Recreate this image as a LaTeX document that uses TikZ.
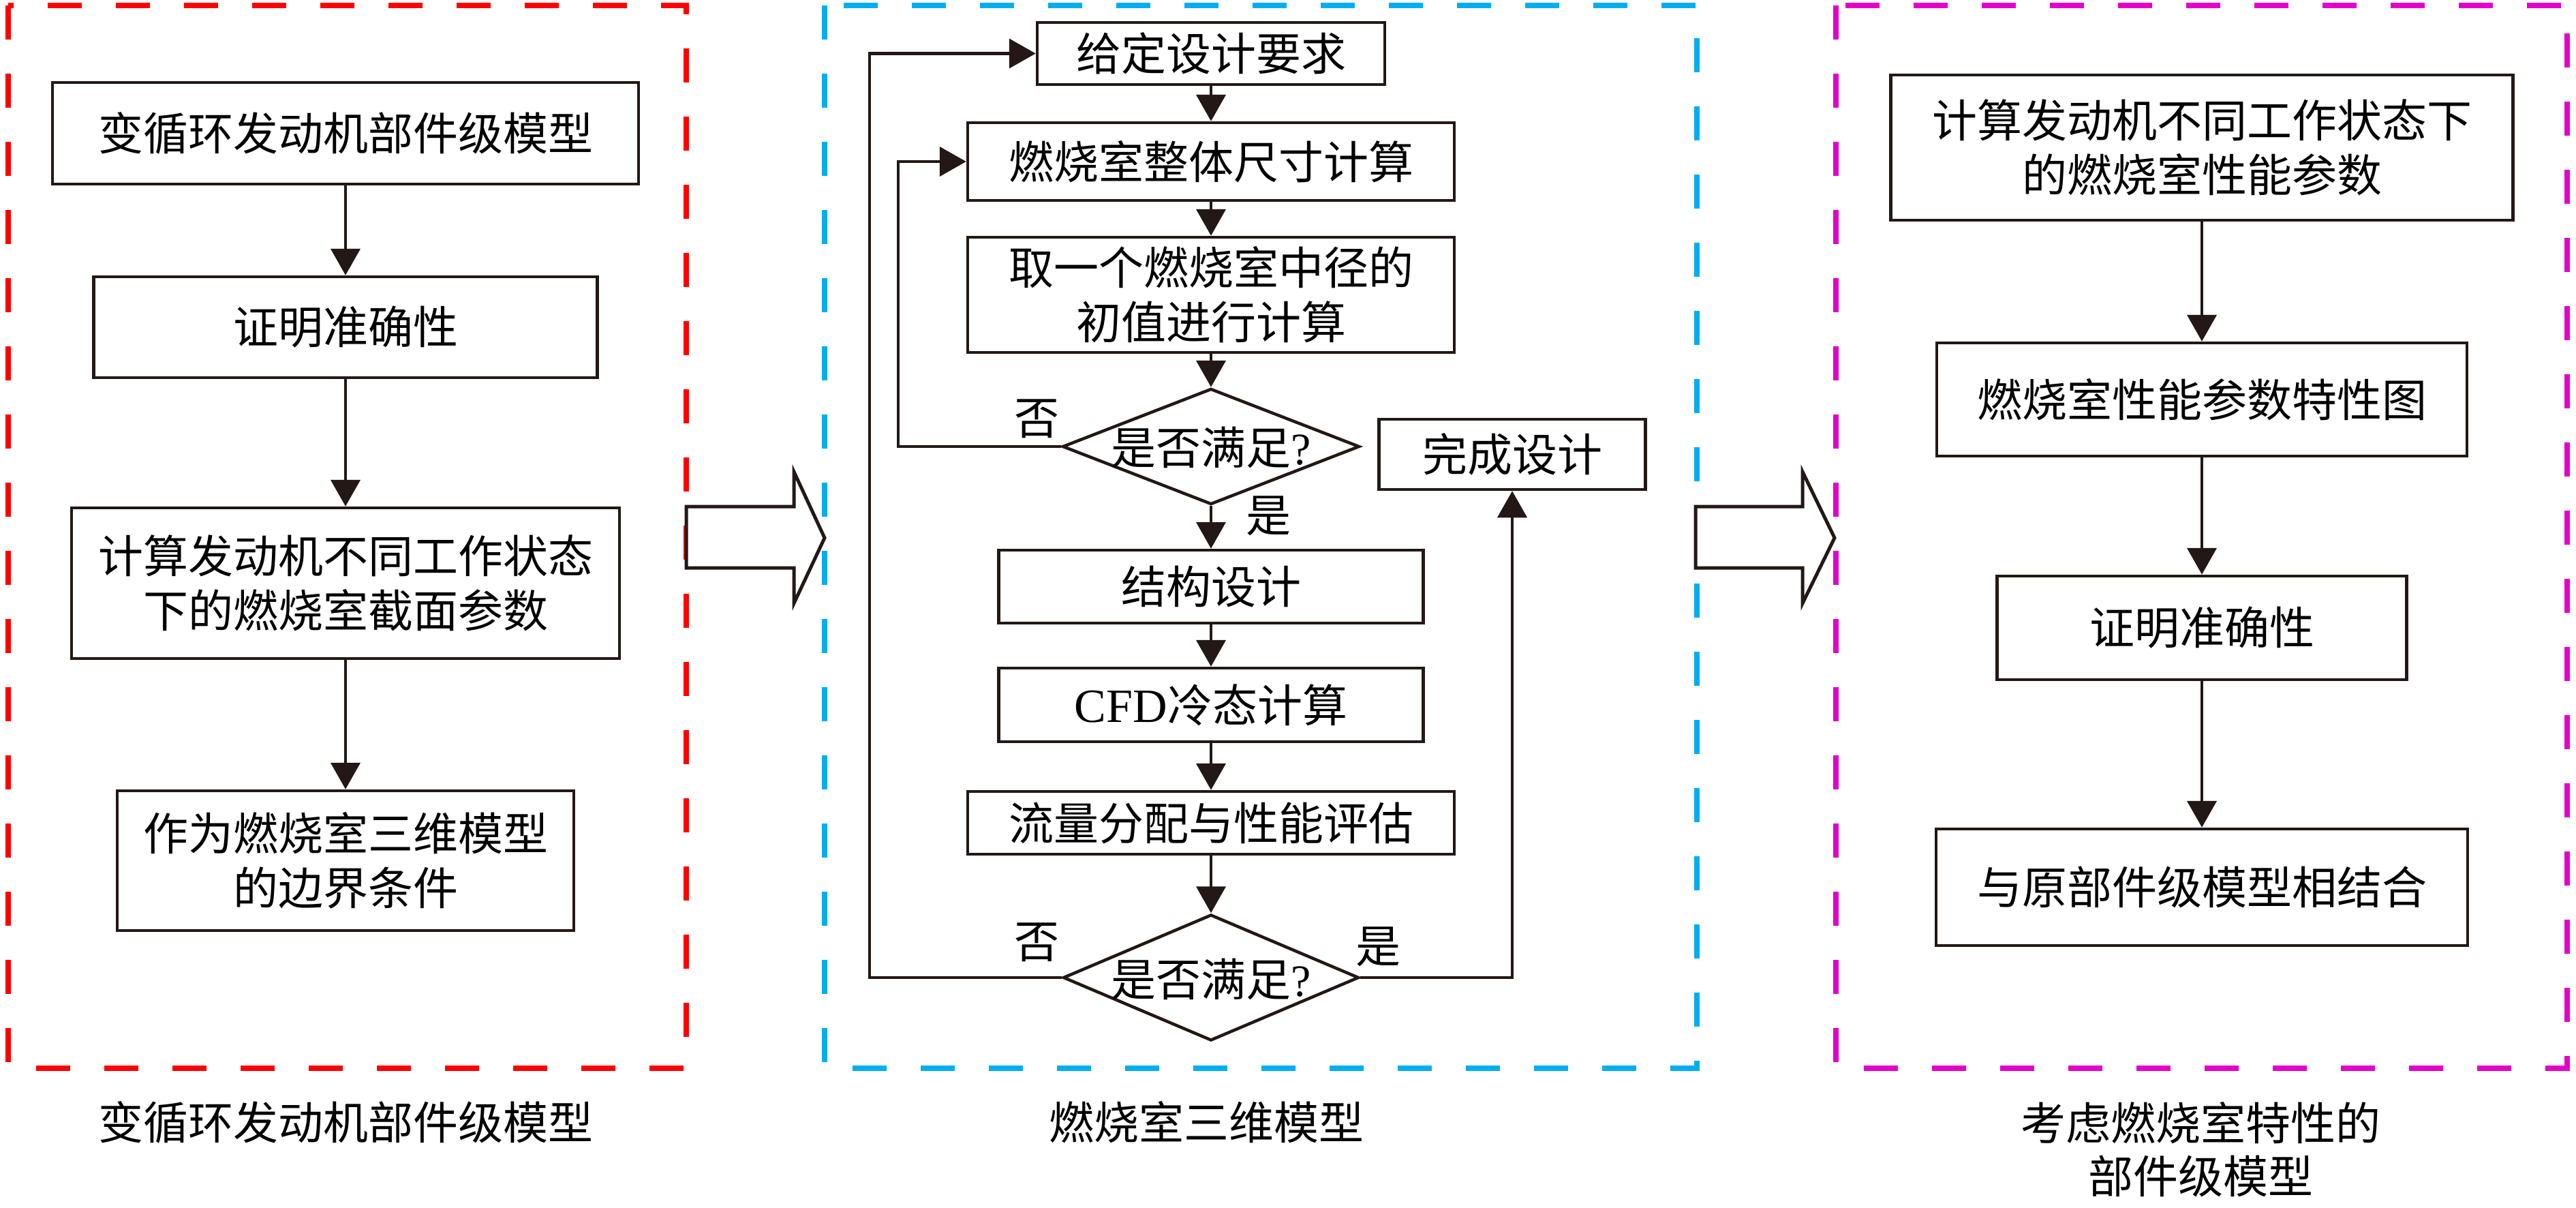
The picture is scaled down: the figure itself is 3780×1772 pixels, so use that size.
\documentclass[tikz,border=0pt]{standalone}
\usepackage{fontspec}
\setmainfont{Liberation Serif}
\newfontfamily\cjk{Noto Sans CJK SC}
\usetikzlibrary{arrows.meta,shapes.geometric}
\definecolor{fred}{RGB}{255,0,0}
\definecolor{fblue}{RGB}{0,174,239}
\definecolor{fmag}{RGB}{228,0,200}
\definecolor{fblack}{RGB}{35,24,21}
\tikzset{
  txt/.style={font=\cjk\fontsize{66}{80}\selectfont, text=black, inner sep=0pt, align=center},
  box/.style={txt, draw=fblack, line width=4.5pt, fill=white},
  dia/.style={draw=fblack, line width=4.5pt, shape=diamond, inner sep=0pt, fill=white},
  arr/.style={draw=fblack, line width=4.5pt, -{Triangle[length=39pt,width=43pt]}},
  frame/.style={line width=8pt, dash pattern=on 50pt off 50pt},
  hollow/.style={draw=fblack, line width=5pt, fill=white, line join=miter},
}
\begin{document}
\begin{tikzpicture}[x=1pt,y=-1pt]
\useasboundingbox (0,0) rectangle (3780,1772);

% dashed frames
\draw[frame, fred] (12,8) rectangle (1007,1567);
\draw[frame, fblue] (1210,8) rectangle (2490,1567);
\draw[frame, fmag] (2694,8) rectangle (3767,1567);

% left panel
\node[box, minimum width=860pt, minimum height=149pt] (L1) at (507,195.5) {变循环发动机部件级模型};
\node[box, minimum width=739pt, minimum height=148pt] (L2) at (507,480) {证明准确性};
\node[box, minimum width=804pt, minimum height=221pt] (L3) at (507,855.5) {计算发动机不同工作状态\\下的燃烧室截面参数};
\node[box, minimum width=670pt, minimum height=205pt] (L4) at (507,1262.5) {作为燃烧室三维模型\\的边界条件};
\draw[arr] (L1) -- (L2);
\draw[arr] (L2) -- (L3);
\draw[arr] (L3) -- (L4);
\node[txt] (capL) at (507,1646) {变循环发动机部件级模型};

% middle panel
\node[box, minimum width=510pt, minimum height=91pt] (A) at (1777,78.5) {给定设计要求};
\node[box, minimum width=714pt, minimum height=114pt] (B) at (1777,237) {燃烧室整体尺寸计算};
\node[box, minimum width=714pt, minimum height=169pt] (C) at (1777,432.5) {取一个燃烧室中径的\\初值进行计算};
\node[dia, minimum width=436pt, minimum height=170pt] (D1) at (1777,655) {};
\node[txt] (D1t) at (1777,656) {是否满足{\rmfamily ?}};
\node[box, minimum width=391pt, minimum height=103pt] (Done) at (2219,666.5) {完成设计};
\node[box, minimum width=623pt, minimum height=107pt] (E) at (1777,860.5) {结构设计};
\node[box, minimum width=623pt, minimum height=108pt] (F) at (1777,1034) {{\rmfamily\fontsize{70}{80}\selectfont CFD}冷态计算};
\node[box, minimum width=714pt, minimum height=92pt] (G) at (1777,1207) {流量分配与性能评估};
\node[dia, minimum width=434pt, minimum height=185pt] (D2) at (1777,1434) {};
\node[txt] (D2t) at (1777,1436) {是否满足{\rmfamily ?}};

\draw[arr] (A) -- (B);
\draw[arr] (B) -- (C);
\draw[arr] (C) -- (D1);
\draw[arr] (D1) -- (E);
\draw[arr] (E) -- (F);
\draw[arr] (F) -- (G);
\draw[arr] (G) -- (D2);
\draw[arr] (D1.west) -- ++(-239,0) |- (B.west);
\draw[arr] (D2.west) -- ++(-282,0) |- (A.west);
\draw[arr] (D2.east) -| (Done.south);

\node[txt] (no1) at (1521,614) {否};
\node[txt] (yes1) at (1861,757) {是};
\node[txt] (no2) at (1521,1382) {否};
\node[txt] (yes2) at (2022,1389) {是};
\node[txt] (capM) at (1770,1646) {燃烧室三维模型};

% right panel
\node[box, minimum width=913pt, minimum height=213pt] (R1) at (3231,216.5) {计算发动机不同工作状态下\\的燃烧室性能参数};
\node[box, minimum width=778pt, minimum height=166pt] (R2) at (3231,586) {燃烧室性能参数特性图};
\node[box, minimum width=601pt, minimum height=152pt] (R3) at (3231,921) {证明准确性};
\node[box, minimum width=780pt, minimum height=171pt] (R4) at (3231,1301.5) {与原部件级模型相结合};
\draw[arr] (R1) -- (R2);
\draw[arr] (R2) -- (R3);
\draw[arr] (R3) -- (R4);
\node[txt, font=\cjk\fontsize{66}{78}\selectfont] (capR) at (3229,1686) {考虑燃烧室特性的\\部件级模型};

% hollow arrows between panels
\draw[hollow] (1007,743) -- (1165,743) -- (1165,692) -- (1210,789) -- (1165,885) -- (1165,833) -- (1007,833) -- cycle;
\draw[hollow] (2488,743) -- (2645,743) -- (2645,692) -- (2692,789) -- (2645,885) -- (2645,833) -- (2488,833) -- cycle;
\end{tikzpicture}
\end{document}
